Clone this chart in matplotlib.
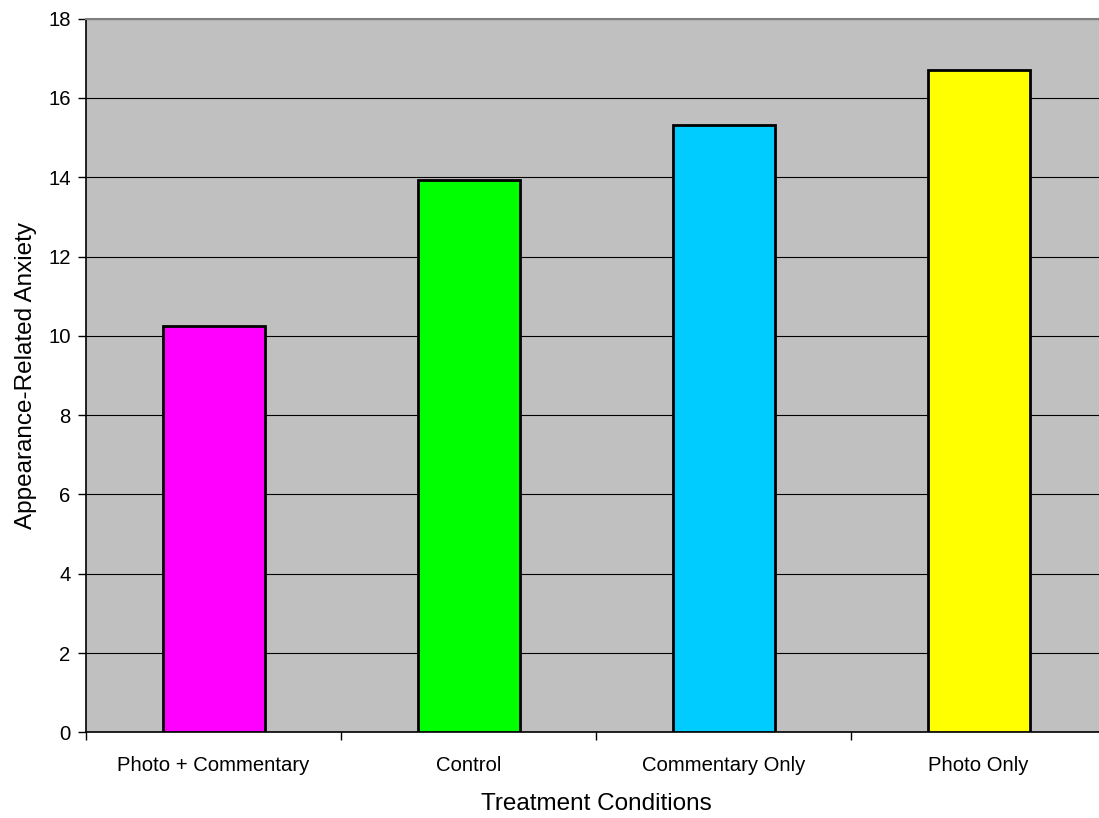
import matplotlib
matplotlib.use("Agg")
import matplotlib.pyplot as plt

categories = ["Photo + Commentary", "Control", "Commentary Only", "Photo Only"]
values = [10.25, 13.93, 15.33, 16.71]
colors = ["#FF00FF", "#00FF00", "#00CCFF", "#FFFF00"]

plt.rcParams['font.family'] = ['Liberation Sans', 'DejaVu Sans']

fig = plt.figure(figsize=(10.99, 8.18), dpi=100)
ax = fig.add_axes([86 / 1099, (818 - 732.3) / 818, 1020 / 1099, 713.6 / 818])
ax.set_facecolor("#C0C0C0")

x = range(len(categories))
ax.bar(x, values, width=0.4, color=colors, edgecolor="black", linewidth=2, zorder=3)

ax.set_ylim(0, 18)
ax.set_yticks(range(0, 19, 2))
ax.yaxis.grid(True, color="black", linewidth=0.8, zorder=1)
ax.set_axisbelow(True)

# category boundaries get the tick marks, names sit between them
ax.set_xlim(-0.5, len(categories) - 0.5)
ax.set_xticks([i - 0.5 for i in range(len(categories) + 1)])
ax.set_xticklabels([])
ax.set_xticks(list(x), minor=True)
ax.set_xticklabels(categories, minor=True)
ax.tick_params(axis="x", which="minor", length=0, pad=17, labelsize=14.6)
ax.tick_params(axis="x", which="major", length=6, width=1, direction="out")
ax.tick_params(axis="y", length=6, width=1, direction="out", pad=5, labelsize=14.6)

for s in ["left", "bottom"]:
    ax.spines[s].set_color("black")
    ax.spines[s].set_linewidth(1.2)
ax.spines["top"].set_color("#808080")
ax.spines["top"].set_linewidth(1.5)
ax.spines["right"].set_visible(False)

ax.set_xlabel("Treatment Conditions", fontsize=17.5, labelpad=13)
ax.set_ylabel("Appearance-Related Anxiety", fontsize=17.5, labelpad=8)

fig.savefig("out.png", dpi=100)
